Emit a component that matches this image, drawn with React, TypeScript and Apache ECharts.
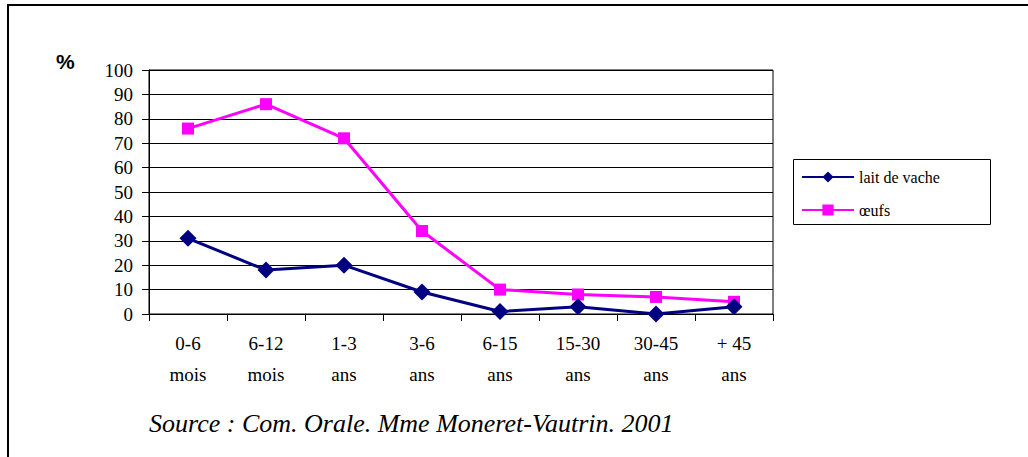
import React, { useEffect, useRef } from "react";
import * as echarts from "echarts";

const categories = ["0-6\nmois", "6-12\nmois", "1-3\nans", "3-6\nans", "6-15\nans", "15-30\nans", "30-45\nans", "+ 45\nans"];
const laitDeVache = [31, 18, 20, 9, 1, 3, 0, 3];
const oeufs = [76, 86, 72, 34, 10, 8, 7, 5];
const seriesNames = ["lait de vache", "œufs"];
const sourceText = "Source : Com. Orale. Mme Moneret-Vautrin. 2001";

const SERIF = "Liberation Serif, Times New Roman, serif";

export default function App() {
  const ref = useRef<HTMLDivElement>(null);
  useEffect(() => {
    if (!ref.current) return;
    const chart = echarts.init(ref.current, null, { renderer: "svg" });
    chart.setOption({
      animation: false,
      backgroundColor: "#ffffff",
      grid: {
        left: 149,
        top: 70,
        width: 624,
        height: 244,
        show: true,
        borderColor: "#000",
        borderWidth: 1,
        backgroundColor: "transparent",
      },
      legend: {
        left: 801,
        top: 169,
        padding: 0,
        orient: "vertical",
        itemWidth: 52,
        itemHeight: 14,
        itemGap: 17,
        textStyle: { fontFamily: SERIF, fontSize: 16, color: "#000" },
        data: seriesNames,
      },
      xAxis: {
        type: "category",
        data: categories,
        boundaryGap: true,
        axisLine: { lineStyle: { color: "#000", width: 1 } },
        axisTick: { show: true, length: 7, inside: false, lineStyle: { color: "#000" } },
        axisLabel: {
          interval: 0,
          margin: 14,
          fontFamily: SERIF,
          fontSize: 19,
          lineHeight: 31,
          color: "#000",
        },
      },
      yAxis: {
        type: "value",
        min: 0,
        max: 100,
        interval: 10,
        axisLine: { show: true, lineStyle: { color: "#000", width: 1 } },
        axisTick: { show: true, length: 7, lineStyle: { color: "#000" } },
        splitLine: { show: true, lineStyle: { color: "#000", width: 1 } },
        axisLabel: { margin: 16, fontFamily: SERIF, fontSize: 19, color: "#000" },
      },
      series: [
        {
          name: seriesNames[0],
          type: "line",
          data: laitDeVache,
          symbol: "diamond",
          symbolSize: 17,
          lineStyle: { color: "#000080", width: 3 },
          itemStyle: { color: "#000080" },
          z: 3,
        },
        {
          name: seriesNames[1],
          type: "line",
          data: oeufs,
          symbol: "rect",
          symbolSize: 12,
          lineStyle: { color: "#FF00FF", width: 3 },
          itemStyle: { color: "#FF00FF" },
          z: 2,
        },
      ],
      graphic: [
        {
          type: "rect",
          shape: { x: 8, y: 5, width: 1040, height: 470 },
          style: { fill: "none", stroke: "#000", lineWidth: 2 },
          silent: true,
        },
        {
          type: "rect",
          shape: { x: 793.5, y: 159.5, width: 197, height: 65 },
          style: { fill: "none", stroke: "#000", lineWidth: 1 },
          silent: true,
        },
        {
          type: "text",
          left: 56,
          top: 51,
          style: {
            text: "%",
            fontFamily: "Liberation Sans, Arial, sans-serif",
            fontWeight: "bold",
            fontSize: 21,
            fill: "#000",
          },
        },
        {
          type: "text",
          left: 149,
          top: 410,
          style: {
            text: sourceText,
            fontFamily: SERIF,
            fontStyle: "italic",
            fontSize: 26,
            fill: "#000",
          },
        },
      ],
    });
    return () => chart.dispose();
  }, []);
  return (
    <div
      ref={ref}
      style={{ position: "absolute", left: 0, top: 0, width: 1028, height: 457 }}
    />
  );
}
